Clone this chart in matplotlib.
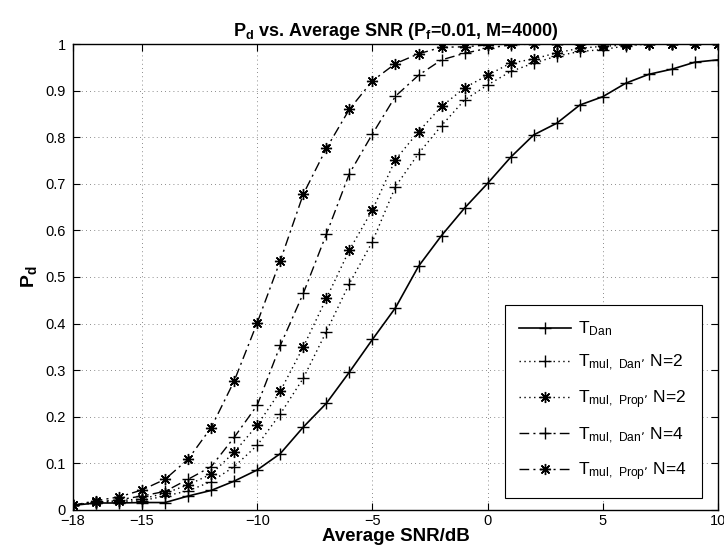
import numpy as np
import matplotlib
matplotlib.use('Agg')
import matplotlib.pyplot as plt

plt.rcParams['font.family'] = ['Liberation Sans', 'DejaVu Sans']
plt.rcParams['mathtext.default'] = 'regular'

# average SNR in dB, one point per dB
snr_db = np.arange(-18, 11)

# detection probabilities
pd_dan = [0.010, 0.015, 0.015, 0.016, 0.016, 0.030, 0.042, 0.062, 0.086, 0.121,
          0.178, 0.229, 0.296, 0.366, 0.434, 0.523, 0.589, 0.648, 0.701, 0.757,
          0.805, 0.830, 0.869, 0.887, 0.916, 0.935, 0.946, 0.961, 0.966]
pd_mul_dan_2 = [0.010, 0.015, 0.018, 0.020, 0.030, 0.041, 0.061, 0.093, 0.139, 0.206,
                0.283, 0.383, 0.486, 0.576, 0.694, 0.765, 0.825, 0.880, 0.912, 0.941,
                0.959, 0.974, 0.984, 0.988, 0.996, 1.000, 1.000, 1.000, 1.000]
pd_mul_prop_2 = [0.010, 0.017, 0.020, 0.024, 0.036, 0.054, 0.077, 0.124, 0.182, 0.255,
                 0.350, 0.454, 0.558, 0.644, 0.752, 0.812, 0.866, 0.906, 0.933, 0.959,
                 0.968, 0.981, 0.991, 0.995, 0.998, 1.000, 1.000, 1.000, 1.000]
pd_mul_dan_4 = [0.010, 0.017, 0.022, 0.030, 0.040, 0.066, 0.093, 0.156, 0.225, 0.353,
                0.465, 0.592, 0.722, 0.807, 0.888, 0.933, 0.966, 0.980, 0.991, 0.998,
                1.000, 1.000, 1.000, 1.000, 1.000, 1.000, 1.000, 1.000, 1.000]
pd_mul_prop_4 = [0.010, 0.020, 0.028, 0.043, 0.066, 0.109, 0.177, 0.277, 0.402, 0.535,
                 0.678, 0.776, 0.860, 0.921, 0.958, 0.979, 0.993, 0.994, 0.998, 1.000,
                 1.000, 1.000, 1.000, 1.000, 1.000, 1.000, 1.000, 1.000, 1.000]

labels = [r"$T_{Dan}$",
          r"$T_{mul,\ Dan’}$ N=2",
          r"$T_{mul,\ Prop’}$ N=2",
          r"$T_{mul,\ Dan’}$ N=4",
          r"$T_{mul,\ Prop’}$ N=4"]

ASTERISK = (8, 2, 0)
DASHDOT = (0, (7, 3, 1.5, 3))

fig = plt.figure(figsize=(7.24, 5.57), dpi=100)
ax = fig.add_axes([0.1008, 0.0844, 0.8909, 0.8366])

ax.plot(snr_db, pd_dan, color='k', lw=1.2, ls='-', marker='+', ms=8, mew=1.0, label=labels[0])
ax.plot(snr_db, pd_mul_dan_2, color='k', lw=1.0, ls=(0, (1, 2.5)), marker='+', ms=8, mew=1.0, label=labels[1])
ax.plot(snr_db, pd_mul_prop_2, color='k', lw=1.0, ls=(0, (1, 2.5)), marker=ASTERISK, ms=8, mew=1.0, label=labels[2])
ax.plot(snr_db, pd_mul_dan_4, color='k', lw=1.0, ls=DASHDOT, marker='+', ms=8, mew=1.0, label=labels[3])
ax.plot(snr_db, pd_mul_prop_4, color='k', lw=1.0, ls=DASHDOT, marker=ASTERISK, ms=8, mew=1.0, label=labels[4])

ax.set_xlim(-18, 10)
ax.set_ylim(0, 1)
ax.set_xticks([-18, -15, -10, -5, 0, 5, 10])
ax.set_xticklabels(['\u221218', '\u221215', '\u221210', '\u22125', '0', '5', '10'])
ax.set_yticks(np.arange(0, 1.01, 0.1))
ax.set_yticklabels(['0', '0.1', '0.2', '0.3', '0.4', '0.5', '0.6', '0.7', '0.8', '0.9', '1'])
ax.tick_params(direction='in', length=5, width=0.8, labelsize=10.5, top=True, right=True, pad=3)
ax.tick_params(axis='y', pad=5)
ax.grid(True, color='0.4', ls=(0, (1, 4)), lw=0.6)
for s in ax.spines.values():
    s.set_linewidth(1.0)

ax.set_title(r"$P_d$ vs. Average SNR ($P_f$=0.01, M=4000)", fontsize=13, fontweight='bold', pad=6)
ax.set_xlabel("Average SNR/dB", fontsize=13.5, fontweight='bold', labelpad=0)
ax.set_ylabel(r"$P_d$", fontsize=14, fontweight='bold', labelpad=5)

leg = ax.legend(loc='lower right', bbox_to_anchor=(0.975, 0.026), borderaxespad=0,
                fontsize=12.5, handlelength=3.0, labelspacing=0.85, borderpad=0.85,
                handletextpad=0.4, fancybox=False, framealpha=1, edgecolor='k')
leg.get_frame().set_linewidth(0.8)

fig.savefig('out.png', dpi=100)
